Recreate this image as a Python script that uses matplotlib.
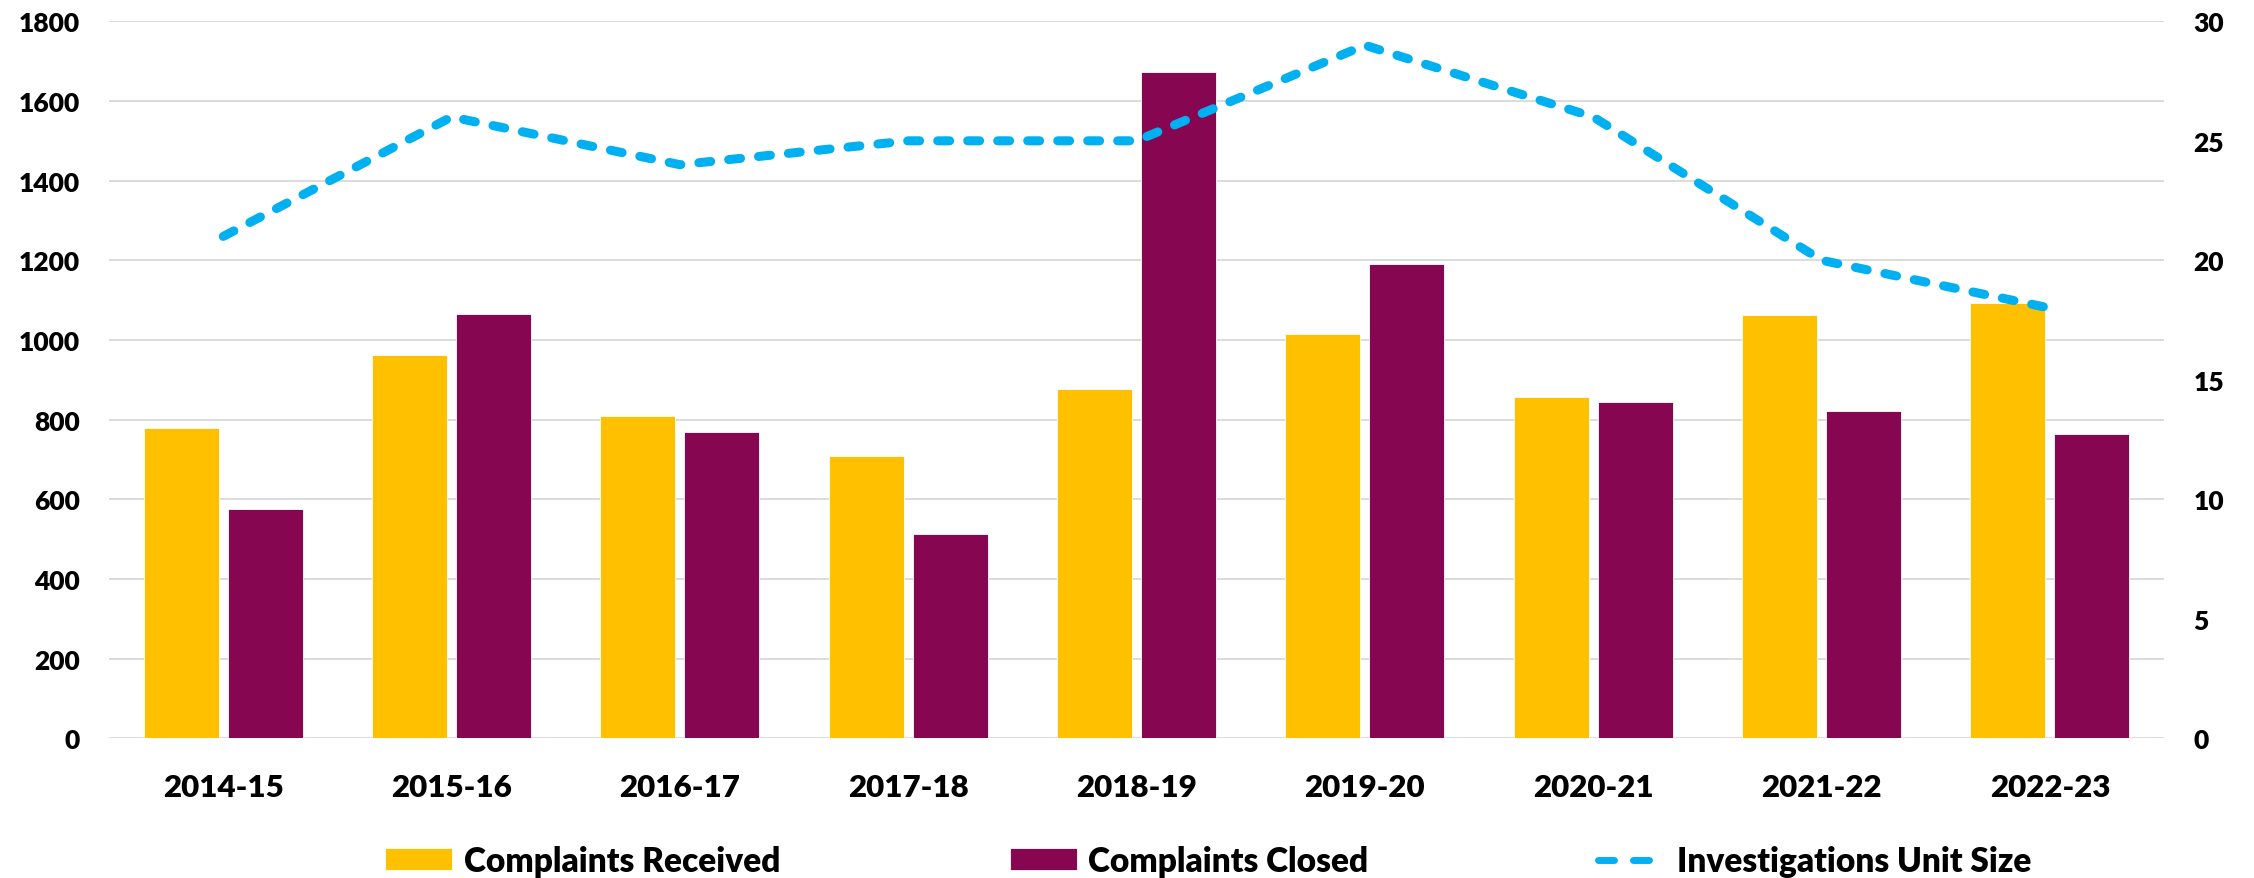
import matplotlib
matplotlib.use('Agg')
import matplotlib.pyplot as plt
from matplotlib.lines import Line2D
import numpy as np

years = ['2014-15', '2015-16', '2016-17', '2017-18', '2018-19',
         '2019-20', '2020-21', '2021-22', '2022-23']
received = [778, 961, 810, 708, 876, 1016, 856, 1063, 1094]
closed = [575, 1066, 768, 514, 1672, 1190, 845, 821, 763]
unit_size = [21, 26, 24, 25, 25, 29, 26, 20, 18]

left_ticks = list(range(0, 1801, 200))
right_ticks = list(range(0, 31, 5))

plt.rcParams['font.family'] = ['Lato', 'DejaVu Sans']
plt.rcParams['font.weight'] = 'heavy'

fig = plt.figure(figsize=(22.54, 8.79), dpi=100)
ax = fig.add_axes([0.0484, 0.159, 0.9117, 0.8156])

x = np.arange(len(years))
w = 0.328
off = 0.184
b1 = ax.bar(x - off, received, w, color='#FFC000', edgecolor='white',
            linewidth=0.6, label='Complaints Received', zorder=2)
b2 = ax.bar(x + off, closed, w, color='#860652', edgecolor='white',
            linewidth=0.6, label='Complaints Closed', zorder=2)

ax.set_xlim(-0.5, len(years) - 0.5)
ax.set_ylim(0, 1800)
ax.set_yticks(left_ticks)
ax.set_xticks(x)
ax.set_xticklabels(years)
ax.grid(axis='y', color='#D9D9D9', linewidth=1.3, zorder=0)
ax.set_axisbelow(True)
for s in ax.spines.values():
    s.set_visible(False)
ax.tick_params(length=0)
ax.tick_params(axis='y', labelsize=19, pad=21)
ax.tick_params(axis='x', labelsize=22.5, pad=25)

ax2 = ax.twinx()
ax2.set_ylim(0, 30)
ax2.set_yticks(right_ticks)
for s in ax2.spines.values():
    s.set_visible(False)
ax2.tick_params(length=0, labelsize=19, pad=21)
lw = 6.5
line, = ax2.plot(x, unit_size, color='#00B0F0', lw=lw,
                 linestyle=(0, (8.6 / lw, 13 / lw)),
                 dash_capstyle='round', dash_joinstyle='round',
                 label='Investigations Unit Size', zorder=3)

hlw = 5.0
line_handle = Line2D([], [], color='#00B0F0', lw=hlw,
                     linestyle=(0, (11.5 / hlw, 13.7 / hlw)),
                     dash_capstyle='round',
                     label='Investigations Unit Size')

fig.legend(handles=[b1, b2, line_handle], loc='center',
           bbox_to_anchor=(0.536, 0.0193), ncol=3, frameon=False,
           fontsize=24, handlelength=2.0, handletextpad=0.35,
           columnspacing=6.9, handleheight=0.64)

fig.savefig('out.png', dpi=100)
